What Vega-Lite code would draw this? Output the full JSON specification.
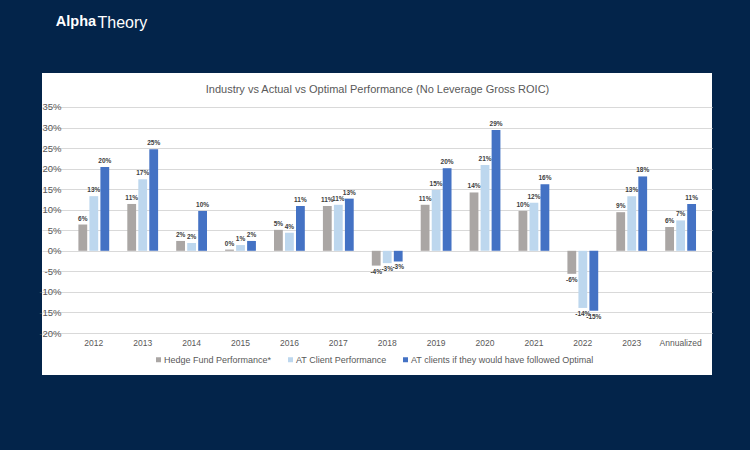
{
  "$schema": "https://vega.github.io/schema/vega-lite/v6.json",
  "width": 670,
  "height": 302,
  "autosize": {"type": "none"},
  "padding": {"left": 42, "top": 73, "right": 38, "bottom": 75},
  "background": "#03244a",
  "title": {"text": "Alpha", "anchor": "start", "orient": "top", "frame": "bounds", "offset": -26, "dx": 17, "baseline": "alphabetic", "fontSize": 14.5, "fontWeight": "bold", "font": "Liberation Sans", "color": "#ffffff"},
  "config": {
    "locale": {"number": {"decimal": ".", "thousands": ",", "grouping": [3], "currency": ["$", ""], "minus": "-"}},
    "view": {"fill": "#ffffff", "stroke": null},
    "font": "Liberation Sans"
  },
  "data": {"values": [
    {"year": "2012", "series": "Hedge Fund Performance*", "value": 0.064},
    {"year": "2012", "series": "AT Client Performance", "value": 0.133},
    {"year": "2012", "series": "AT clients if they would have followed Optimal", "value": 0.204},
    {"year": "2013", "series": "Hedge Fund Performance*", "value": 0.114},
    {"year": "2013", "series": "AT Client Performance", "value": 0.174},
    {"year": "2013", "series": "AT clients if they would have followed Optimal", "value": 0.247},
    {"year": "2014", "series": "Hedge Fund Performance*", "value": 0.024},
    {"year": "2014", "series": "AT Client Performance", "value": 0.019},
    {"year": "2014", "series": "AT clients if they would have followed Optimal", "value": 0.097},
    {"year": "2015", "series": "Hedge Fund Performance*", "value": 0.003},
    {"year": "2015", "series": "AT Client Performance", "value": 0.014},
    {"year": "2015", "series": "AT clients if they would have followed Optimal", "value": 0.024},
    {"year": "2016", "series": "Hedge Fund Performance*", "value": 0.051},
    {"year": "2016", "series": "AT Client Performance", "value": 0.044},
    {"year": "2016", "series": "AT clients if they would have followed Optimal", "value": 0.109},
    {"year": "2017", "series": "Hedge Fund Performance*", "value": 0.109},
    {"year": "2017", "series": "AT Client Performance", "value": 0.112},
    {"year": "2017", "series": "AT clients if they would have followed Optimal", "value": 0.127},
    {"year": "2018", "series": "Hedge Fund Performance*", "value": -0.036},
    {"year": "2018", "series": "AT Client Performance", "value": -0.030},
    {"year": "2018", "series": "AT clients if they would have followed Optimal", "value": -0.026},
    {"year": "2019", "series": "Hedge Fund Performance*", "value": 0.112},
    {"year": "2019", "series": "AT Client Performance", "value": 0.148},
    {"year": "2019", "series": "AT clients if they would have followed Optimal", "value": 0.201},
    {"year": "2020", "series": "Hedge Fund Performance*", "value": 0.142},
    {"year": "2020", "series": "AT Client Performance", "value": 0.209},
    {"year": "2020", "series": "AT clients if they would have followed Optimal", "value": 0.294},
    {"year": "2021", "series": "Hedge Fund Performance*", "value": 0.097},
    {"year": "2021", "series": "AT Client Performance", "value": 0.117},
    {"year": "2021", "series": "AT clients if they would have followed Optimal", "value": 0.162},
    {"year": "2022", "series": "Hedge Fund Performance*", "value": -0.056},
    {"year": "2022", "series": "AT Client Performance", "value": -0.139},
    {"year": "2022", "series": "AT clients if they would have followed Optimal", "value": -0.146},
    {"year": "2023", "series": "Hedge Fund Performance*", "value": 0.094},
    {"year": "2023", "series": "AT Client Performance", "value": 0.133},
    {"year": "2023", "series": "AT clients if they would have followed Optimal", "value": 0.181},
    {"year": "Annualized", "series": "Hedge Fund Performance*", "value": 0.058},
    {"year": "Annualized", "series": "AT Client Performance", "value": 0.074},
    {"year": "Annualized", "series": "AT clients if they would have followed Optimal", "value": 0.114}
  ]},
  "encoding": {
    "x": {
      "field": "year", "type": "nominal",
      "sort": ["2012", "2013", "2014", "2015", "2016", "2017", "2018", "2019", "2020", "2021", "2022", "2023", "Annualized"],
      "scale": {"paddingInner": 0.37, "paddingOuter": 0.5355, "align": 0.695},
      "axis": {
        "offset": -42, "domain": false, "ticks": false, "tickSize": 0, "labelPadding": 5, "labelAngle": 0,
        "labelFontSize": 8.5, "labelColor": "#595959", "grid": false,
        "title": "Theory", "titleX": 55, "titleY": -306, "titleAlign": "left", "titleBaseline": "alphabetic",
        "titleFontSize": 16, "titleFontWeight": "normal", "titleColor": "#ffffff"
      }
    },
    "xOffset": {
      "field": "series", "type": "nominal",
      "sort": ["Hedge Fund Performance*", "AT Client Performance", "AT clients if they would have followed Optimal"],
      "scale": {"paddingInner": 0.2, "paddingOuter": 0}
    },
    "y": {
      "field": "value", "type": "quantitative",
      "scale": {"domain": [-0.3022, 0.4327], "nice": false, "zero": false},
      "axis": {
        "values": [-0.2, -0.15, -0.1, -0.05, 0, 0.05, 0.1, 0.15, 0.2, 0.25, 0.3, 0.35],
        "format": ".0%", "grid": true, "gridColor": "#d9d9d9", "gridWidth": 1,
        "domain": false, "ticks": false, "tickSize": 0, "offset": -21, "labelPadding": 2,
        "labelFontSize": 9.5, "labelColor": "#595959",
        "title": "Industry vs Actual vs Optimal Performance (No Leverage Gross ROIC)",
        "titleX": 314, "titleY": 19, "titleAngle": 0, "titleAlign": "center", "titleBaseline": "alphabetic",
        "titleFontSize": 11, "titleFontWeight": "normal", "titleColor": "#595959"
      }
    }
  },
  "layer": [
    {
      "mark": {"type": "bar"},
      "encoding": {
        "color": {
          "field": "series", "type": "nominal",
          "scale": {"domain": ["Hedge Fund Performance*", "AT Client Performance", "AT clients if they would have followed Optimal"], "range": ["#aaa6a4", "#bdd7ee", "#4472c4"]},
          "legend": {
            "orient": "none", "legendX": 112, "legendY": 282, "direction": "horizontal", "title": null,
            "labelFontSize": 9, "labelColor": "#595959", "symbolType": "square", "symbolSize": 25,
            "symbolStrokeWidth": 0, "columnPadding": 14, "labelOffset": 1, "labelLimit": 0
          }
        }
      }
    },
    {
      "transform": [{"filter": "datum.value >= 0"}],
      "mark": {"type": "text", "baseline": "bottom", "dy": -3, "fontSize": 6.5, "fontWeight": "bold", "color": "#404040"},
      "encoding": {"text": {"field": "value", "type": "quantitative", "format": ".0%"}}
    },
    {
      "transform": [{"filter": "datum.value < 0"}],
      "mark": {"type": "text", "baseline": "top", "dy": 3, "fontSize": 6.5, "fontWeight": "bold", "color": "#404040"},
      "encoding": {"text": {"field": "value", "type": "quantitative", "format": ".0%"}}
    }
  ]
}
